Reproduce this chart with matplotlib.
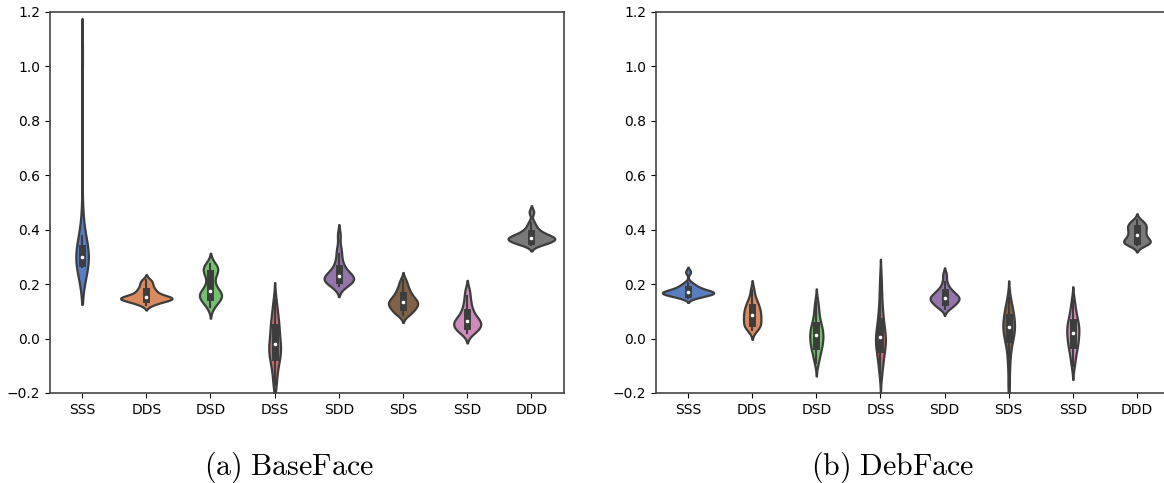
import matplotlib
matplotlib.use("Agg")
import matplotlib.pyplot as plt
import pandas as pd
import seaborn as sns

plt.rcParams['mathtext.fontset'] = 'cm'

cats = ['SSS', 'DDS', 'DSD', 'DSS', 'SDD', 'SDS', 'SSD', 'DDD']

# (a) BaseFace, values
base_sss = [0.262, 0.264, 0.268, 0.27, 0.273, 0.278, 0.285, 0.292, 0.297, 0.30, 0.302,
            0.306, 0.312, 0.32, 0.33, 0.34, 0.36, 0.377, 0.47, 1.04]
base_dds = [0.125, 0.13, 0.136, 0.14, 0.143, 0.145, 0.147, 0.148, 0.149, 0.15, 0.152,
            0.155, 0.16, 0.166, 0.172, 0.178, 0.185, 0.195, 0.205, 0.215]
base_dsd = [0.115, 0.13, 0.138, 0.145, 0.15, 0.155, 0.16, 0.163, 0.166, 0.17,
            0.178, 0.19, 0.205, 0.225, 0.24, 0.248, 0.254, 0.26, 0.266, 0.273]
base_dss = [-0.17, -0.14, -0.11, -0.09, -0.075, -0.065, -0.055, -0.045, -0.035, -0.025, -0.015,
            -0.005, 0.01, 0.025, 0.04, 0.055, 0.065, 0.085, 0.11, 0.14]
base_sdd = [0.193, 0.198, 0.203, 0.207, 0.211, 0.215, 0.218, 0.221, 0.224, 0.227, 0.23, 0.234,
            0.24, 0.248, 0.258, 0.27, 0.285, 0.31, 0.332, 0.38]
base_sds = [0.087, 0.093, 0.1, 0.106, 0.112, 0.117, 0.121, 0.125, 0.129, 0.133, 0.137, 0.141,
            0.146, 0.152, 0.158, 0.166, 0.175, 0.185, 0.198, 0.215]
base_ssd = [0.019, 0.025, 0.031, 0.036, 0.041, 0.046, 0.05, 0.054, 0.058, 0.062, 0.066, 0.071,
            0.077, 0.085, 0.094, 0.105, 0.118, 0.135, 0.155, 0.179]
base_ddd = [0.345, 0.349, 0.352, 0.355, 0.358, 0.361, 0.364, 0.366, 0.368, 0.37, 0.372, 0.374,
            0.377, 0.381, 0.386, 0.392, 0.399, 0.41, 0.426, 0.465]

# (b) DebFace
deb_sss = [0.15, 0.154, 0.157, 0.16, 0.162, 0.164, 0.166, 0.168, 0.169, 0.17, 0.171, 0.173,
           0.175, 0.178, 0.182, 0.186, 0.19, 0.196, 0.205, 0.245]
deb_dds = [0.03, 0.037, 0.043, 0.048, 0.054, 0.06, 0.066, 0.072, 0.078, 0.084, 0.09, 0.096,
           0.102, 0.108, 0.115, 0.123, 0.13, 0.14, 0.155, 0.18]
deb_dsd = [-0.09, -0.07, -0.055, -0.042, -0.032, -0.024, -0.016, -0.008, 0.0, 0.008, 0.015,
           0.022, 0.03, 0.038, 0.046, 0.056, 0.07, 0.09, 0.11, 0.135]
deb_dss = [-0.13, -0.1, -0.08, -0.06, -0.045, -0.035, -0.025, -0.015, -0.005, 0.0, 0.01, 0.02,
           0.03, 0.045, 0.06, 0.08, 0.1, 0.13, 0.17, 0.22]
deb_sdd = [0.11, 0.117, 0.122, 0.127, 0.132, 0.136, 0.14, 0.143, 0.146, 0.149, 0.152, 0.155,
           0.159, 0.163, 0.168, 0.174, 0.18, 0.19, 0.208, 0.235]
deb_sds = [-0.17, -0.1, -0.06, -0.03, -0.01, 0.0, 0.01, 0.02, 0.03, 0.038, 0.045, 0.052,
           0.06, 0.068, 0.078, 0.09, 0.1, 0.11, 0.125, 0.15]
deb_ssd = [-0.1, -0.075, -0.055, -0.04, -0.028, -0.02, -0.01, 0.0, 0.01, 0.018, 0.026, 0.034,
           0.042, 0.05, 0.058, 0.068, 0.08, 0.095, 0.115, 0.14]
deb_ddd = [0.342, 0.346, 0.349, 0.352, 0.355, 0.358, 0.361, 0.365, 0.37, 0.376, 0.382, 0.388,
           0.394, 0.4, 0.406, 0.411, 0.416, 0.421, 0.427, 0.435]

base_groups = [base_sss, base_dds, base_dsd, base_dss, base_sdd, base_sds, base_ssd, base_ddd]
deb_groups = [deb_sss, deb_dds, deb_dsd, deb_dss, deb_sdd, deb_sds, deb_ssd, deb_ddd]

captions = [r'$\mathrm{(a)\ BaseFace}$', r'$\mathrm{(b)\ DebFace}$']
yticks = [-0.2, 0.0, 0.2, 0.4, 0.6, 0.8, 1.0, 1.2]


def long_frame(groups):
    rows = [(c, v) for c, vals in zip(cats, groups) for v in vals]
    return pd.DataFrame(rows, columns=['group', 'value'])


fig = plt.figure(figsize=(11.64, 4.83), dpi=100)
ax1 = fig.add_axes([50 / 1164, 90 / 483, 513.5 / 1164, 381 / 483])
ax2 = fig.add_axes([656 / 1164, 90 / 483, 513 / 1164, 381 / 483])

for ax, groups in zip([ax1, ax2], [base_groups, deb_groups]):
    df = long_frame(groups)
    sns.violinplot(data=df, x='group', y='value', hue='group', order=cats, hue_order=cats,
                   palette='muted', legend=False, bw_method=0.4, common_norm=True,
                   linewidth=1.6, linecolor='#3d3d3d',
                   inner_kws=dict(box_width=5, whis_width=1.5, marker='o'), ax=ax)
    # small white median dots like the old seaborn look
    for ln in ax.lines:
        if ln.get_marker() == 'o':
            ln.set_markersize(2.6)
            ln.set_markeredgewidth(0)
            ln.set_markerfacecolor('white')
    ax.set_ylim(-0.2, 1.2)
    ax.set_yticks(yticks)
    ax.set_xlabel('')
    ax.set_ylabel('')
    for sp in ax.spines.values():
        sp.set_color('#444444')
        sp.set_linewidth(1.2)

fig.text(289 / 1164, 0.033, captions[0], ha='center', va='center', fontsize=21.5)
fig.text(893 / 1164, 0.033, captions[1], ha='center', va='center', fontsize=21.5)

fig.savefig('out.png', dpi=100)
